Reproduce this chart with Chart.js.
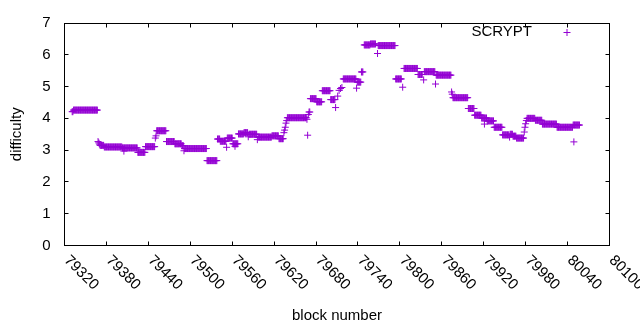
<!DOCTYPE html>
<html>
<head>
<meta charset="utf-8">
<script src="https://cdn.jsdelivr.net/npm/chart.js@4.4.1/dist/chart.umd.min.js"></script>
<style>
  html, body { margin: 0; padding: 0; background: #fff; }
  canvas { display: block; }
</style>
</head>
<body>
<canvas id="chart" width="640" height="330"></canvas>
<script>
const runStart = [79331, 79333, 79368, 79369, 79370, 79371, 79377, 79403, 79405, 79425,
                  79436, 79450, 79451, 79452, 79466, 79478, 79488, 79491, 79492, 79524,
                  79539, 79543, 79552, 79553, 79561, 79564, 79569, 79577, 79583, 79584,
                  79596, 79597, 79617, 79627, 79634, 79635, 79636, 79637, 79638, 79639,
                  79667, 79668, 79669, 79670, 79672, 79681, 79689, 79701, 79708, 79711,
                  79713, 79715, 79717, 79719, 79738, 79739, 79745, 79749, 79758, 79768,
                  79769, 79794, 79804, 79806, 79826, 79834, 79835, 79851, 79852, 79874,
                  79875, 79876, 79898, 79907, 79917, 79921, 79925, 79935, 79947, 79957,
                  79958, 79962, 79967, 79978, 79979, 79980, 79981, 79982, 79994, 80004,
                  80025, 80048, 80049];
const runEnd   = [79332, 79367, 79368, 79369, 79370, 79376, 79402, 79424, 79405, 79435,
                  79449, 79450, 79451, 79465, 79477, 79487, 79490, 79491, 79523, 79538,
                  79542, 79551, 79552, 79560, 79568, 79564, 79576, 79582, 79583, 79595,
                  79596, 79616, 79626, 79633, 79634, 79635, 79636, 79637, 79638, 79666,
                  79667, 79668, 79669, 79671, 79680, 79688, 79700, 79707, 79708, 79711,
                  79713, 79715, 79717, 79737, 79738, 79744, 79747, 79757, 79765, 79768,
                  79793, 79802, 79804, 79825, 79832, 79834, 79850, 79851, 79873, 79874,
                  79875, 79897, 79906, 79916, 79924, 79921, 79934, 79946, 79956, 79957,
                  79961, 79966, 79977, 79978, 79979, 79980, 79981, 79993, 80003, 80024,
                  80047, 80057, 80049];
const runValue = [4.21, 4.26, 3.27, 3.23, 3.19, 3.15, 3.10, 3.07, 2.97, 2.93,
                  3.11, 3.38, 3.45, 3.61, 3.27, 3.20, 3.14, 2.98, 3.05, 2.67,
                  3.35, 3.28, 3.09, 3.38, 3.20, 3.12, 3.51, 3.55, 3.42, 3.50,
                  3.33, 3.41, 3.45, 3.36, 3.55, 3.63, 3.72, 3.85, 3.93, 4.02,
                  3.97, 3.47, 4.12, 4.20, 4.62, 4.52, 4.87, 4.59, 4.34, 4.70,
                  4.88, 4.94, 4.97, 5.24, 4.95, 5.14, 5.46, 6.31, 6.34, 6.04,
                  6.29, 5.24, 4.98, 5.57, 5.38, 5.21, 5.47, 5.08, 5.36, 4.83,
                  4.76, 4.65, 4.31, 4.10, 4.01, 3.82, 3.92, 3.72, 3.48, 3.41,
                  3.50, 3.44, 3.38, 3.57, 3.72, 3.83, 3.93, 4.00, 3.94, 3.82,
                  3.72, 3.79, 3.26];

const seriesName = "SCRYPT";
const xTitle = "block number";
const yTitle = "difficulty";
const xMin = 79320, xMax = 80100, xStep = 60;
const yMin = 0, yMax = 7, yStep = 1;

// one point per block
const points = [];
for (let i = 0; i < runStart.length; i++) {
    for (let b = runStart[i]; b <= runEnd[i]; b++) {
        points.push({ x: b, y: runValue[i] });
    }
}

const purple = "#9400d3";
const fontFamily = "'Liberation Sans', Arial, sans-serif";
Chart.defaults.font.family = fontFamily;
Chart.defaults.font.size = 15;
Chart.defaults.color = "#000";

function crisp(v) {
    return Math.floor(v) + 0.5;
}

// gnuplot style box, inward ticks, rotated x labels and key
const frame = {
    id: "frame",
    afterDraw(chart) {
        const ctx = chart.ctx;
        const area = chart.chartArea;
        const xs = chart.scales.x;
        const ys = chart.scales.y;
        const left = crisp(area.left), right = crisp(area.right);
        const top = crisp(area.top), bottom = crisp(area.bottom);
        const tick = 4;

        ctx.save();
        ctx.strokeStyle = "#000";
        ctx.lineWidth = 1;
        ctx.strokeRect(left, top, right - left, bottom - top);

        ctx.beginPath();
        xs.ticks.forEach(t => {
            const px = crisp(xs.getPixelForValue(t.value));
            ctx.moveTo(px, bottom);
            ctx.lineTo(px, bottom - tick);
            ctx.moveTo(px, top);
            ctx.lineTo(px, top + tick);
        });
        ys.ticks.forEach(t => {
            const py = crisp(ys.getPixelForValue(t.value));
            ctx.moveTo(left, py);
            ctx.lineTo(left + tick, py);
            ctx.moveTo(right, py);
            ctx.lineTo(right - tick, py);
        });
        ctx.stroke();

        ctx.fillStyle = "#000";
        ctx.font = "15px " + fontFamily;
        ctx.textAlign = "left";
        ctx.textBaseline = "middle";
        xs.ticks.forEach(t => {
            const px = xs.getPixelForValue(t.value);
            ctx.save();
            ctx.translate(px + 2, bottom + 12.5);
            ctx.rotate(Math.PI / 4);
            ctx.fillText(String(t.value), 0, 0);
            ctx.restore();
        });

        // key
        const ds = chart.data.datasets[0];
        ctx.textAlign = "right";
        ctx.fillText(ds.label, 532, 32);
        ctx.strokeStyle = purple;
        ctx.beginPath();
        ctx.moveTo(563.5, 32.5);
        ctx.lineTo(570.5, 32.5);
        ctx.moveTo(567, 29);
        ctx.lineTo(567, 36);
        ctx.stroke();
        ctx.restore();
    }
};

new Chart(document.getElementById("chart"), {
    type: "scatter",
    data: {
        datasets: [{
            label: seriesName,
            data: points,
            showLine: false,
            pointStyle: "cross",
            pointRadius: 3.5,
            pointBorderWidth: 1,
            pointBorderColor: purple,
            pointBackgroundColor: purple,
            borderColor: purple,
            backgroundColor: purple
        }]
    },
    options: {
        responsive: false,
        animation: false,
        layout: { padding: { left: 0, top: 19.5, right: 30.5, bottom: 0 } },
        plugins: {
            legend: { display: false },
            tooltip: { enabled: false }
        },
        scales: {
            x: {
                type: "linear",
                min: xMin,
                max: xMax,
                ticks: { display: false, stepSize: xStep },
                grid: { display: false, drawTicks: false },
                border: { display: false },
                title: { display: true, text: xTitle, padding: { top: 0, bottom: 5 } },
                afterFit(scale) { scale.height = 84.5; }
            },
            y: {
                min: yMin,
                max: yMax,
                ticks: { stepSize: yStep, padding: 14 },
                grid: { display: false, drawTicks: false },
                border: { display: false },
                title: { display: true, text: yTitle, padding: { top: 7.5, bottom: 0 } },
                afterFit(scale) { scale.width = 64.5; }
            }
        }
    },
    plugins: [frame]
});
</script>
</body>
</html>
